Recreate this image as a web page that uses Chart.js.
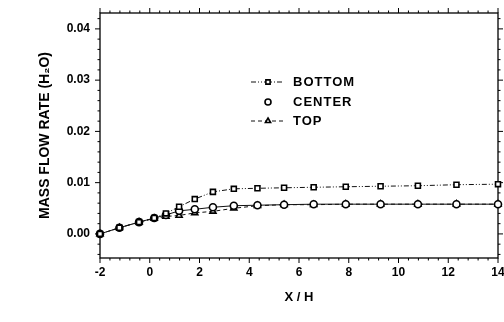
<!DOCTYPE html>
<html lang="en">
<head>
  <meta charset="UTF-8">
  <title>Mass Flow Rate</title>
  <script src="https://cdn.jsdelivr.net/npm/chart.js"></script>
  <style>
    html, body { margin: 0; padding: 0; background: #fff; }
    #wrap { width: 504px; height: 322px; }
  </style>
</head>
<body>
  <div id="wrap"><canvas id="flowChart"></canvas></div>

  <script>
    // values
    const xPos = [-2, -1.22, -0.43, 0.18, 0.65, 1.18, 1.81, 2.54, 3.38, 4.33, 5.4, 6.59, 7.88, 9.28, 10.78, 12.33, 14.0];
    const bottom = [0, 0.0012, 0.0023, 0.0031, 0.0040, 0.0053, 0.0068, 0.0082, 0.0088, 0.0089, 0.0090, 0.0091, 0.0092, 0.0093, 0.0094, 0.0096, 0.0097];
    const center = [0, 0.0012, 0.0023, 0.0031, 0.0037, 0.0045, 0.0048, 0.0052, 0.0055, 0.0056, 0.0057, 0.0058, 0.0058, 0.0058, 0.0058, 0.0058, 0.0058];
    const top_ = [0, 0.0012, 0.0023, 0.0030, 0.0034, 0.0036, 0.0041, 0.0044, 0.0050, 0.0055, 0.0057, 0.0057, 0.0058, 0.0058, 0.0058, 0.0058, 0.0058];
    const seriesNames = ['BOTTOM', 'CENTER', 'TOP'];
    const xTicks = [-2, 0, 2, 4, 6, 8, 10, 12, 14];
    const yTicks = [0, 0.01, 0.02, 0.03, 0.04];

    const pts = arr => arr.map((v, i) => ({ x: xPos[i], y: v }));

    function series(label, arr, style, dash) {
      return {
        label: label,
        data: pts(arr),
        borderColor: '#111',
        borderWidth: 1,
        borderDash: dash,
        pointStyle: style,
        pointRadius: 3.5,
        pointBorderWidth: 1.6,
        pointBackgroundColor: '#fff',
        pointBorderColor: '#000',
        tension: 0,
        clip: false
      };
    }

    // frame, ticks and in-plot legend
    const framePlugin = {
      id: 'frame',
      beforeDatasetsDraw(chart) {
        const { ctx, chartArea: a, scales: { x, y } } = chart;
        ctx.save();
        ctx.strokeStyle = '#000';
        ctx.lineWidth = 1.3;
        ctx.strokeRect(a.left, a.top, a.right - a.left, a.bottom - a.top);
        ctx.lineWidth = 1;
        ctx.beginPath();
        for (let v = -2; v <= 14.001; v += 0.4) {
          const px = x.getPixelForValue(v);
          const major = Math.abs(v / 2 - Math.round(v / 2)) < 0.01;
          const len = major ? 5 : 2.5;
          ctx.moveTo(px, a.bottom); ctx.lineTo(px, a.bottom + len);
          ctx.moveTo(px, a.top); ctx.lineTo(px, a.top - len);
        }
        for (let v = -0.004; v <= 0.0431; v += 0.002) {
          const py = y.getPixelForValue(v);
          const major = Math.abs(v / 0.01 - Math.round(v / 0.01)) < 0.01;
          const len = major ? 5 : 2.5;
          ctx.moveTo(a.left, py); ctx.lineTo(a.left - len, py);
          ctx.moveTo(a.right, py); ctx.lineTo(a.right + len, py);
        }
        ctx.stroke();
        ctx.restore();
      },
      afterDatasetsDraw(chart) {
        const { ctx } = chart;
        const rows = [82, 102, 121];
        ctx.save();
        chart.data.datasets.forEach((ds, i) => {
          const yy = rows[i];
          if (i !== 1) {
            ctx.beginPath();
            ctx.setLineDash(ds.borderDash);
            ctx.strokeStyle = '#111';
            ctx.lineWidth = 1;
            ctx.moveTo(251, yy); ctx.lineTo(284, yy);
            ctx.stroke();
          }
          ctx.setLineDash([]);
          ctx.fillStyle = '#fff';
          ctx.strokeStyle = '#000';
          ctx.lineWidth = 1.6;
          Chart.helpers.drawPoint(ctx, { pointStyle: ds.pointStyle, radius: 3, borderWidth: 1.6 }, 268, yy);
          ctx.fillStyle = '#000';
          ctx.font = 'bold 13px "Liberation Sans", Arial, sans-serif';
          ctx.letterSpacing = '1px';
          ctx.textBaseline = 'middle';
          ctx.fillText(ds.label, 293, yy + 0.5);
        });
        ctx.restore();
      }
    };

    const tickFont = { family: '"Liberation Sans", Arial, sans-serif', size: 12, weight: 'bold' };

    new Chart(document.getElementById('flowChart'), {
      type: 'line',
      data: {
        datasets: [
          series(seriesNames[0], bottom, 'rect', [5, 2, 1, 2, 1, 2]),
          series(seriesNames[1], center, 'circle', []),
          series(seriesNames[2], top_, 'triangle', [4, 3])
        ]
      },
      options: {
        responsive: true,
        maintainAspectRatio: false,
        animation: false,
        layout: { padding: { top: 13, right: 6, left: 0, bottom: 0 } },
        plugins: { legend: { display: false }, tooltip: { enabled: false } },
        scales: {
          x: {
            type: 'linear',
            min: -2,
            max: 14,
            grid: { display: false, drawTicks: false },
            border: { display: false },
            afterBuildTicks: s => { s.ticks = xTicks.map(v => ({ value: v })); },
            afterFit: s => { s.height = 64; s.paddingLeft = 0; s.paddingRight = 0; },
            ticks: { color: '#000', font: tickFont, padding: 7, maxRotation: 0 },
            title: {
              display: true,
              text: 'X / H',
              color: '#000',
              font: { family: '"Liberation Sans", Arial, sans-serif', size: 13, weight: 'bold' },
              padding: { top: 0, bottom: 17 }
            }
          },
          y: {
            min: -0.0047,
            max: 0.0431,
            grid: { display: false, drawTicks: false },
            border: { display: false },
            afterBuildTicks: s => { s.ticks = yTicks.map(v => ({ value: v })); },
            afterFit: s => { s.width = 100; s.paddingTop = 0; s.paddingBottom = 0; },
            ticks: { color: '#000', font: tickFont, padding: 10, callback: v => v.toFixed(2) },
            title: {
              display: true,
              text: 'MASS FLOW RATE (H\u2082O)',
              color: '#000',
              font: { family: '"Liberation Sans", Arial, sans-serif', size: 14, weight: 'bold' },
              padding: { top: 37, bottom: 0 }
            }
          }
        }
      },
      plugins: [framePlugin]
    });
  </script>
</body>
</html>
